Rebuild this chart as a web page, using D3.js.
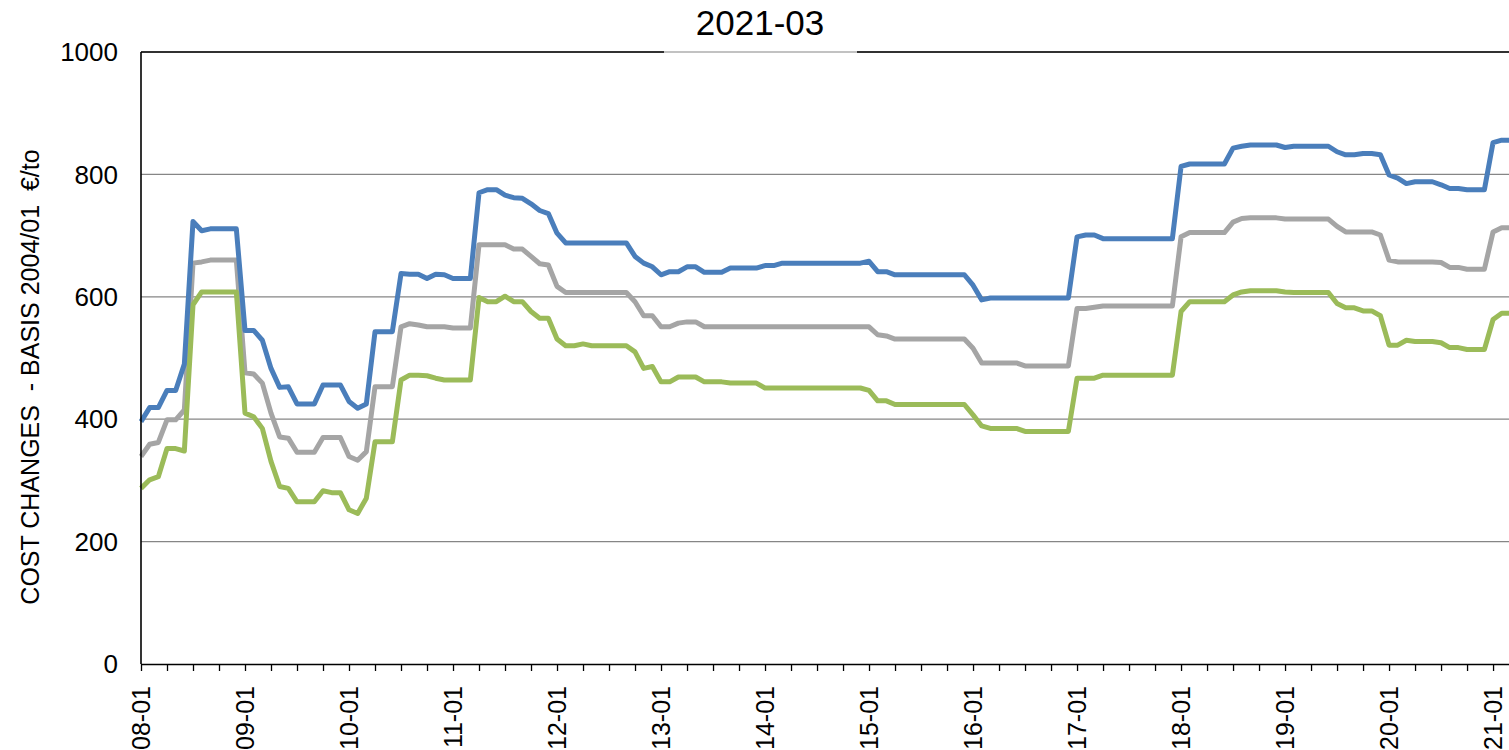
<!DOCTYPE html>
<html>
<head>
<meta charset="utf-8">
<script src="https://cdn.jsdelivr.net/npm/d3@7"></script>
<style>
html,body{margin:0;padding:0;background:#fff;overflow:hidden;}
text{font-family:"Liberation Sans",Arial,sans-serif;fill:#000;}
</style>
</head>
<body>
<svg id="chart" width="1509" height="750"></svg>
<script>
const title = "2021-03";
const yAxisTitle = "COST CHANGES  - BASIS 2004/01  \u20ac/to";
const monthCount = 159; // 2008-01 .. 2021-03
const xTickLabels = ["08-01","09-01","10-01","11-01","12-01","13-01","14-01","15-01","16-01","17-01","18-01","19-01","20-01","21-01"];
const yTicks = [0,200,400,600,800,1000];

const blueSeries = [
396,419,419,447,447,490,723,708,711,711,711,711,545,545,529,483,452,453,425,425,425,456,456,456,429,418,425,543,543,543,638,637,
637,630,637,636,630,630,630,770,775,775,766,762,761,752,741,736,704,688,688,688,688,688,688,688,688,666,655,649,636,641,641,649,
649,640,640,640,647,647,647,647,651,651,655,655,655,655,655,655,655,655,655,655,658,641,641,636,636,636,636,636,636,636,636,636,
619,595,598,598,598,598,598,598,598,598,598,598,698,701,701,695,695,695,695,695,695,695,695,695,813,817,817,817,817,817,843,
846,848,848,848,848,844,846,846,846,846,846,837,832,832,834,834,832,799,794,785,788,788,788,783,777,777,775,775,775,852,856,856
];
const greySeries = [
339,359,362,399,399,415,655,657,660,660,660,660,476,474,459,410,371,369,346,346,346,370,370,370,339,333,347,453,453,453,551,556,
554,551,551,551,549,549,549,685,685,685,685,678,678,666,654,652,617,607,607,607,607,607,607,607,607,592,569,569,551,551,557,559,
559,551,551,551,551,551,551,551,551,551,551,551,551,551,551,551,551,551,551,551,551,538,536,531,531,531,531,531,531,531,531,531,
516,492,492,492,492,492,487,487,487,487,487,487,581,581,583,585,585,585,585,585,585,585,585,585,698,705,705,705,705,705,722,
728,729,729,729,729,727,727,727,727,727,727,715,706,706,706,706,701,660,657,657,657,657,657,656,648,648,645,645,645,706,713,713
];
const greenSeries = [
287,301,306,352,352,348,587,608,608,608,608,608,410,404,385,331,290,287,265,265,265,283,280,280,252,246,271,363,363,363,464,472,
472,471,467,464,464,464,464,599,592,592,601,592,592,576,565,565,531,520,520,523,520,520,520,520,520,510,483,486,461,461,469,469,
469,461,461,461,459,459,459,459,451,451,451,451,451,451,451,451,451,451,451,451,447,430,430,424,424,424,424,424,424,424,424,424,
407,389,385,385,385,385,380,380,380,380,380,380,467,467,467,472,472,472,472,472,472,472,472,472,576,592,592,592,592,592,603,
608,610,610,610,610,608,607,607,607,607,607,589,582,582,577,577,569,521,521,529,527,527,527,525,517,517,514,514,514,563,573,573
];

(function () {
const seriesList = [
  {name:"grey", values: greySeries, color:"#a5a5a5"},
  {name:"green", values: greenSeries, color:"#9bbb59"},
  {name:"blue", values: blueSeries, color:"#4a7ebb"}
];

const svg = d3.select("#chart");
const pL = 141, pT = 52, pB = 664;
const monthWidth = 8.667;
const pR = pL + (monthCount - 1) * monthWidth;

const x = d3.scaleLinear().domain([0, monthCount - 1]).range([pL, pR]);
const y = d3.scaleLinear().domain([0, 1000]).range([pB, pT]);

// gridlines
svg.append("g").selectAll("line").data(yTicks.filter(d => d > 0)).join("line")
  .attr("x1", pL).attr("x2", 1509)
  .attr("y1", d => y(d)).attr("y2", d => y(d))
  .attr("stroke", "#868686").attr("stroke-width", 1.2);

// top border (interrupted under title box)
svg.append("line").attr("x1", pL).attr("x2", 664).attr("y1", y(1000)).attr("y2", y(1000))
  .attr("stroke", "#000").attr("stroke-width", 1.3);
svg.append("line").attr("x1", 857).attr("x2", 1509).attr("y1", y(1000)).attr("y2", y(1000))
  .attr("stroke", "#000").attr("stroke-width", 1.3);

// lines
const line = d3.line().x((d, i) => x(i)).y(d => y(d));
svg.append("g").selectAll("path").data(seriesList).join("path")
  .attr("d", d => line(d.values))
  .attr("fill", "none")
  .attr("stroke", d => d.color)
  .attr("stroke-width", 5)
  .attr("stroke-linejoin", "round")
  .attr("stroke-linecap", "butt");

// left axis line
svg.append("line").attr("x1", pL).attr("x2", pL).attr("y1", pT).attr("y2", pB)
  .attr("stroke", "#000").attr("stroke-width", 1.6);

// y labels
svg.append("g").selectAll("text").data(yTicks).join("text")
  .attr("x", 118).attr("y", d => y(d))
  .attr("dy", "0.35em")
  .attr("text-anchor", "end")
  .attr("font-size", 26)
  .text(d => d);

// x axis with quarterly ticks
const quarterTicks = d3.range(0, monthCount, 3);
const xAxis = d3.axisBottom(x).tickValues(quarterTicks).tickSize(7).tickFormat("");
const xg = svg.append("g").attr("transform", `translate(0,${pB})`).call(xAxis);
xg.select(".domain").attr("stroke", "#000").attr("stroke-width", 1.6).attr("d", `M${pL},0.5H1509`);
xg.selectAll(".tick line").attr("stroke", "#000").attr("stroke-width", 1.3);

// x labels (every 12 months)
svg.append("g").selectAll("text").data(xTickLabels).join("text")
  .attr("transform", (d, i) => `translate(${x(i * 12)},686) rotate(-90)`)
  .attr("dy", "0.35em")
  .attr("text-anchor", "end")
  .attr("font-size", 25)
  .text(d => d);

// title
svg.append("rect").attr("x", 664).attr("y", 0).attr("width", 193).attr("height", 51).attr("fill", "#fff");
svg.append("text").attr("x", 760).attr("y", 35).attr("text-anchor", "middle")
  .attr("font-size", 35).text(title);

// y axis title
svg.append("text")
  .attr("transform", "translate(30,377) rotate(-90)")
  .attr("dy", "0.35em")
  .attr("text-anchor", "middle")
  .attr("font-size", 25)
  .style("white-space", "pre")
  .text(yAxisTitle);
})();
</script>
</body>
</html>
